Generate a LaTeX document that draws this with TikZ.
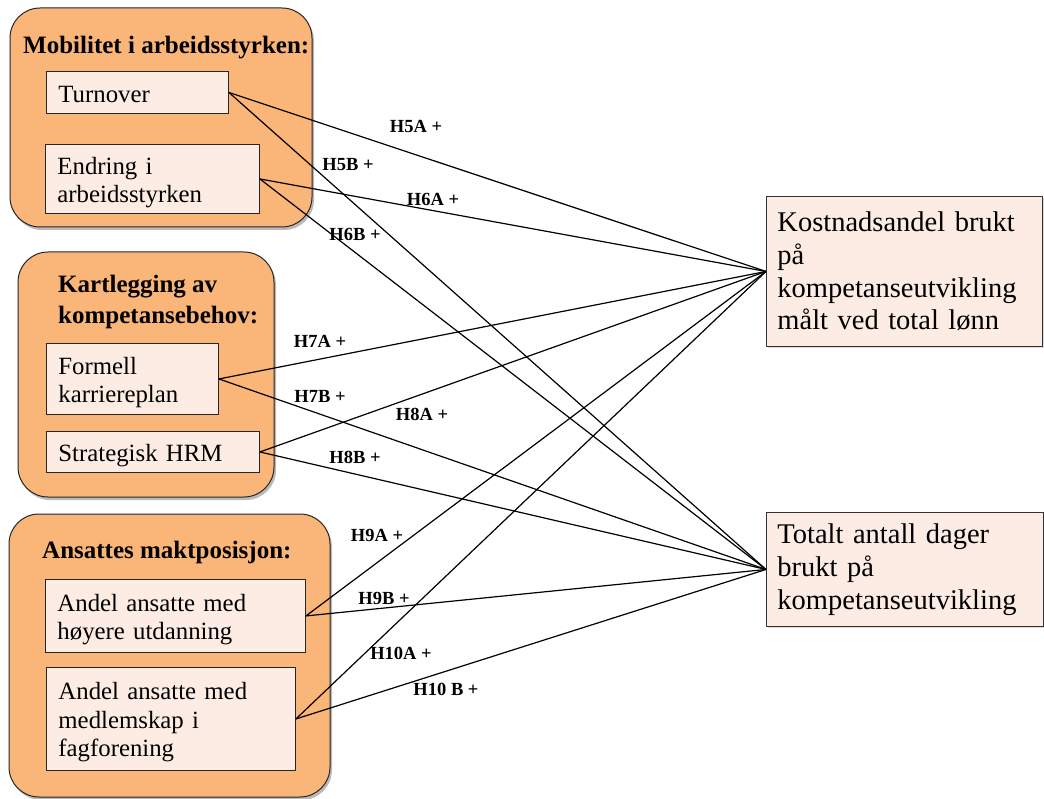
\documentclass[tikz,border=0pt]{standalone}
\usepackage{fontspec}
\setmainfont{Liberation Serif}
\usetikzlibrary{shadows}
\definecolor{grporange}{RGB}{250,181,120}
\definecolor{boxpink}{RGB}{253,236,227}
\newcommand\mytopstrut{\rule{0pt}{24pt}}
\newcommand\mybotstrut{\rule[-4pt]{0pt}{4pt}}
\tikzset{
  grp/.style={draw=black!85, line width=1pt, fill=grporange, rounded corners=30pt,
    drop shadow={shadow xshift=2pt, shadow yshift=-3pt, fill=black!45, opacity=0.6}},
  inbox/.style={draw=black!85, line width=0.9pt, fill=boxpink, anchor=north west, align=left,
    inner xsep=12pt, inner ysep=0pt, font=\fontsize{24.8}{28.5}\selectfont},
  outbox/.style={draw=black!80, line width=0.9pt, fill=boxpink, anchor=north west, align=left,
    inner xsep=11pt, inner ysep=0pt, font=\fontsize{28.5}{32.8}\selectfont,
    drop shadow={shadow xshift=1.5pt, shadow yshift=-1.5pt, fill=black!30, opacity=0.5}},
  grptitle/.style={font=\bfseries\fontsize{25}{31}\selectfont, align=left, inner sep=0pt},
  hyp/.style={font=\bfseries\fontsize{18.5}{20}\selectfont, inner sep=0pt},
  link/.style={draw=black, line width=1.2pt}
}
\begin{document}
\begin{tikzpicture}[x=1pt,y=-1pt]
\useasboundingbox (0,0) rectangle (1044,799);
% group frames
\path[grp] (10,8) rectangle (312,227);
\path[grp] (18,252) rectangle (274,497);
\path[grp] (9,514) rectangle (330,797);
% group titles
\node[grptitle, anchor=base west] (t1) at (23,54) {Mobilitet i arbeidsstyrken:};
\node[grptitle, anchor=base west] (t2a) at (58,293) {Kartlegging av};
\node[grptitle, anchor=base west] (t2b) at (58,324) {kompetansebehov:};
\node[grptitle, anchor=base west] (t3) at (42,558) {Ansattes maktposisjon:};
% inner boxes
\node[inbox, text width=158pt, minimum height=42pt] (turn) at (46,71) {\mytopstrut Turnover\mybotstrut};
\node[inbox, text width=190pt, minimum height=69pt] (endr) at (45,144) {\mytopstrut Endring i\\arbeidsstyrken\mybotstrut};
\node[inbox, text width=148pt, minimum height=71pt] (form) at (46,343) {\mytopstrut Formell\\karriereplan\mybotstrut};
\node[inbox, text width=189pt, minimum height=41pt] (strat) at (46,431) {\mytopstrut Strategisk HRM\mybotstrut};
\node[inbox, text width=236pt, minimum height=73pt] (and1) at (45,579) {\mytopstrut Andel ansatte med\\høyere utdanning\mybotstrut};
\node[inbox, text width=225pt, minimum height=103pt] (and2) at (46,667) {\mytopstrut Andel ansatte med\\medlemskap i\\fagforening\mybotstrut};
% outcome boxes
\node[outbox, text width=254pt, minimum height=150pt] (kost) at (766,196) {Kostnadsandel brukt\\på\\kompetanseutvikling\\målt ved total lønn};
\node[outbox, text width=255pt, minimum height=114pt] (tot) at (766,512) {Totalt antall dager\\brukt på\\kompetanseutvikling};
% connectors
\foreach \s in {turn,endr,form,strat,and1,and2}{
  \draw[link] (\s.east) -- (kost.west);
  \draw[link] (\s.east) -- (tot.west);
}
% hypothesis labels
\node[hyp] (h5a) at (416,126) {H5A +};
\node[hyp] (h5b) at (348,165) {H5B +};
\node[hyp] (h6a) at (433,199) {H6A +};
\node[hyp] (h6b) at (355,234) {H6B +};
\node[hyp] (h7a) at (320,341) {H7A +};
\node[hyp] (h7b) at (320,396) {H7B +};
\node[hyp] (h8a) at (422,414) {H8A +};
\node[hyp] (h8b) at (355,457) {H8B +};
\node[hyp] (h9a) at (377,535) {H9A +};
\node[hyp] (h9b) at (384,598) {H9B +};
\node[hyp] (h10a) at (401,653) {H10A +};
\node[hyp] (h10b) at (446,689) {H10 B +};
\end{tikzpicture}
\end{document}
